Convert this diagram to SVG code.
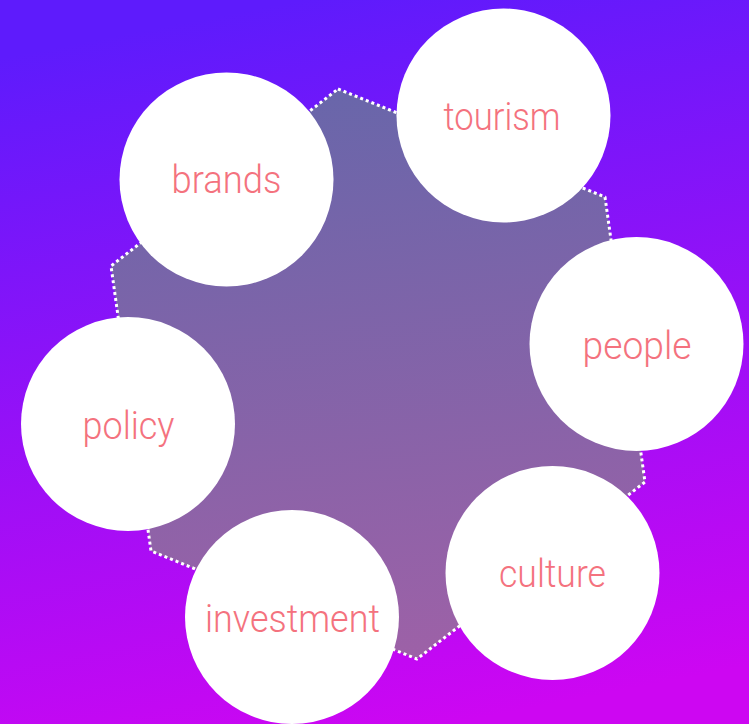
<svg xmlns="http://www.w3.org/2000/svg" width="749" height="724" viewBox="0 0 749 724">
  <defs>
    <linearGradient id="bg" x1="0.4" y1="0" x2="0.6" y2="1">
      <stop offset="0" stop-color="#5e1bfc"/>
      <stop offset="1" stop-color="#cd06f2"/>
    </linearGradient>
    <linearGradient id="hexFill" x1="0.45" y1="0" x2="0.55" y2="1">
      <stop offset="0" stop-color="#6966aa"/>
      <stop offset="1" stop-color="#9d61a7"/>
    </linearGradient>
  </defs>
  <style>
    .node circle { fill: #ffffff; }
    .node text {
      fill: #f4727e;
      font-family: Roboto, "Liberation Sans", "DejaVu Sans", sans-serif;
      font-weight: 300;
      font-size: 38px;
      text-anchor: middle;
    }
    .hex {
      fill: url(#hexFill);
      stroke: #ffffff;
      stroke-width: 3;
      stroke-dasharray: 3 3;
      stroke-linejoin: round;
    }
  </style>

  <!-- backdrop -->
  <rect x="0" y="0" width="749" height="724" fill="url(#bg)"/>

  <!-- dotted hexagon behind the circles -->
  <g id="hexagon">
    <polygon class="hex" points="338,89 605,197 645,482 417,659 151,551 111,266"/>
  </g>

  <g id="brands" class="node">
    <circle cx="226.5" cy="179.5" r="107"/>
    <text x="226.5" y="193" textLength="110" lengthAdjust="spacingAndGlyphs">brands</text>
  </g>
  <g id="tourism" class="node">
    <circle cx="503.5" cy="115.5" r="107"/>
    <text x="502" y="129.5" textLength="117" lengthAdjust="spacingAndGlyphs">tourism</text>
  </g>
  <g id="people" class="node">
    <circle cx="636.5" cy="344" r="107"/>
    <text x="637" y="358.5" textLength="109" lengthAdjust="spacingAndGlyphs">people</text>
  </g>
  <g id="policy" class="node">
    <circle cx="128" cy="424" r="107"/>
    <text x="128.5" y="438.5" textLength="92" lengthAdjust="spacingAndGlyphs">policy</text>
  </g>
  <g id="investment" class="node">
    <circle cx="292" cy="617" r="107"/>
    <text x="292.5" y="632" textLength="175" lengthAdjust="spacingAndGlyphs">investment</text>
  </g>
  <g id="culture" class="node">
    <circle cx="552.5" cy="573" r="107"/>
    <text x="552.5" y="587" textLength="107" lengthAdjust="spacingAndGlyphs">culture</text>
  </g>
</svg>
